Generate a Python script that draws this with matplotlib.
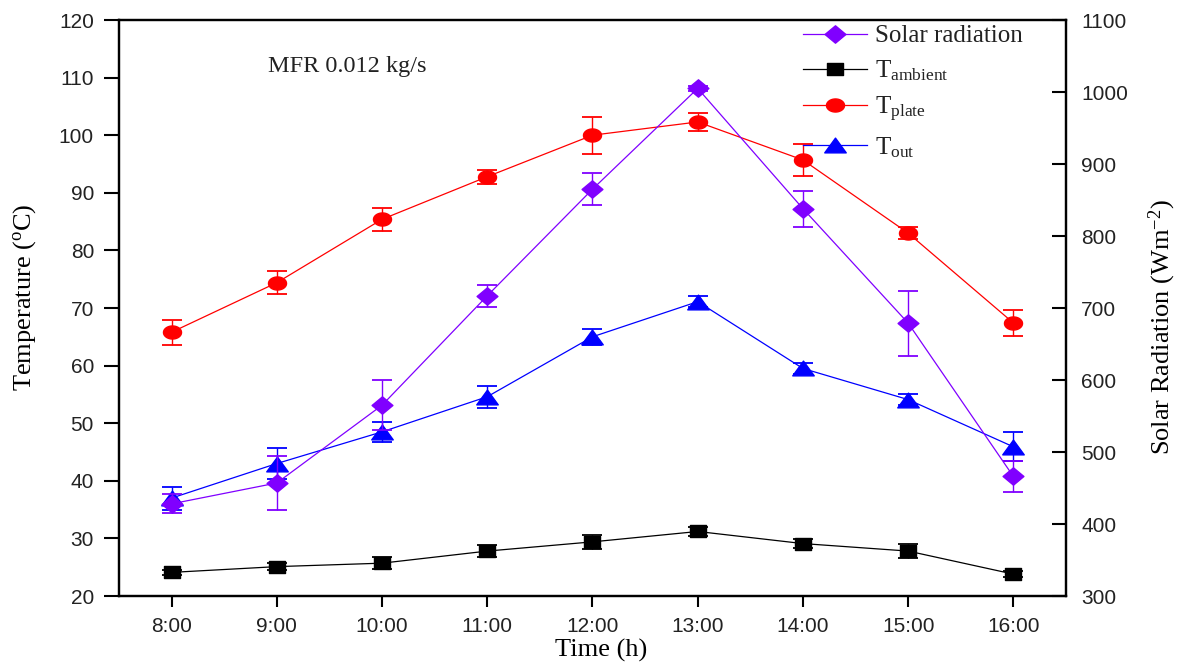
import matplotlib
matplotlib.use('Agg')
import matplotlib.pyplot as plt
import numpy as np
from matplotlib.path import Path

# ---- data ----
hours = [8, 9, 10, 11, 12, 13, 14, 15, 16]
hour_labels = ['8:00', '9:00', '10:00', '11:00', '12:00', '13:00', '14:00', '15:00', '16:00']

t_ambient = [24.1, 25.1, 25.7, 27.8, 29.4, 31.2, 29.1, 27.8, 23.8]
t_ambient_err = [0.5, 0.6, 1.0, 1.0, 1.2, 0.8, 0.8, 1.2, 0.5]

t_plate = [65.8, 74.4, 85.4, 92.8, 100.0, 102.3, 95.7, 83.0, 67.4]
t_plate_err = [2.2, 2.0, 2.0, 1.2, 3.2, 1.5, 2.8, 1.0, 2.3]

t_out = [37.0, 43.0, 48.5, 54.6, 65.0, 71.1, 59.5, 54.1, 45.9]
t_out_err = [2.0, 2.7, 1.7, 1.9, 1.4, 1.0, 1.0, 1.0, 2.5]

solar = [428, 457, 565, 717, 865, 1005, 838, 679, 466]
solar_err = [13, 37, 35, 15, 22, 3, 25, 45, 22]

temp_ticks = [20, 30, 40, 50, 60, 70, 80, 90, 100, 110, 120]
solar_ticks = [300, 400, 500, 600, 700, 800, 900, 1000, 1100]

# ---- style ----
plt.rcParams['font.family'] = 'Liberation Sans'
plt.rcParams['mathtext.fontset'] = 'custom'
plt.rcParams['mathtext.rm'] = 'Liberation Serif'
plt.rcParams['mathtext.it'] = 'Liberation Serif:italic'
plt.rcParams['mathtext.bf'] = 'Liberation Serif:bold'
SERIF = 'Liberation Serif'

PURPLE = '#8000FF'
RED = '#FF0000'
BLUE = '#0000FF'
BLACK = '#000000'

# horizontally stretched marker shapes (the reference is stretched)
sq_marker = Path([(-1.3, -1), (1.3, -1), (1.3, 1), (-1.3, 1), (-1.3, -1)], closed=True)
tt = np.linspace(0, 2 * np.pi, 41)
circ_marker = Path(np.column_stack([1.38 * np.cos(tt), np.sin(tt)]), closed=True)
tri_marker = Path([(-0.73, -0.5), (0.73, -0.5), (0, 0.5), (-0.73, -0.5)], closed=True)
dia_marker = Path([(-0.6, 0), (0, 0.5), (0.6, 0), (0, -0.5), (-0.6, 0)], closed=True)

fig = plt.figure(figsize=(11.85, 6.66), dpi=100)
ax = fig.add_axes([119 / 1185, 70 / 666, 947 / 1185, 576 / 666])
ax2 = ax.twinx()

lw = 0.9
common = dict(lw=lw, elinewidth=1.0, capsize=7.5, capthick=1.3)

h_amb = ax.errorbar(hours, t_ambient, yerr=t_ambient_err, color=BLACK, marker=sq_marker,
                    ms=12, **common)
h_plate = ax.errorbar(hours, t_plate, yerr=t_plate_err, color=RED, marker=circ_marker,
                      ms=13, **common)
h_out = ax.errorbar(hours, t_out, yerr=t_out_err, color=BLUE, marker=tri_marker,
                    ms=15.5, **common)
h_sol = ax2.errorbar(hours, solar, yerr=solar_err, color=PURPLE, marker=dia_marker,
                     ms=15, **common)

ax.set_xlim(7.5, 16.5)
ax.set_ylim(20, 120)
ax2.set_ylim(300, 1100)
ax.set_xticks(hours)
ax.set_xticklabels(hour_labels)
ax.set_yticks(temp_ticks)
ax2.set_yticks(solar_ticks)

for a in (ax, ax2):
    for s in a.spines.values():
        s.set_linewidth(1.6)

ax.tick_params(axis='y', direction='out', length=11, width=1.5, labelsize=15, pad=7)
ax.tick_params(axis='x', direction='out', length=8, width=1.5, labelsize=15, pad=7)
ax2.tick_params(axis='y', direction='in', length=10, width=1.5, labelsize=15, pad=11)
for lab in ax.get_xticklabels() + ax.get_yticklabels() + ax2.get_yticklabels():
    lab.set_color('#222222')

ax.set_xlabel('Time (h)', fontfamily=SERIF, fontsize=19)
ax.xaxis.set_label_coords((601 - 119) / 947, (596 - 650) / 576)
ax.xaxis.label.set_va('center')
ax.set_ylabel('Temperature ($^{\\mathrm{o}}$C)', fontfamily=SERIF, fontsize=19)
ax.yaxis.set_label_coords((25 - 119) / 947, (596 - 297) / 576)
ax.yaxis.label.set_va('center')
ax2.set_ylabel('Solar Radiation (Wm$^{\\mathrm{-2}}$)', fontfamily=SERIF, fontsize=19)
ax2.yaxis.set_label_coords((1162 - 119) / 947, (596 - 327) / 576)
ax2.yaxis.label.set_va('center')

fig.text(268 / 1185, 1 - 72 / 666, 'MFR 0.012 kg/s', fontfamily=SERIF, fontsize=17.5,
         va='baseline', ha='left', color='#222222')

leg = ax2.legend([h_sol[0], h_amb[0], h_plate[0], h_out[0]],
                 ['Solar radiation', 'T$_{\\mathrm{ambient}}$', 'T$_{\\mathrm{plate}}$',
                  'T$_{\\mathrm{out}}$'],
                 loc='upper left', bbox_to_anchor=(803 / 1185, 1 - 25 / 666),
                 bbox_transform=fig.transFigure, frameon=False, borderpad=0,
                 borderaxespad=0, handlelength=2.55, handletextpad=0.33,
                 labelspacing=0.45, prop={'family': SERIF, 'size': 18})
for t in leg.get_texts():
    t.set_color('#222222')

fig.savefig('out.png', dpi=100)
